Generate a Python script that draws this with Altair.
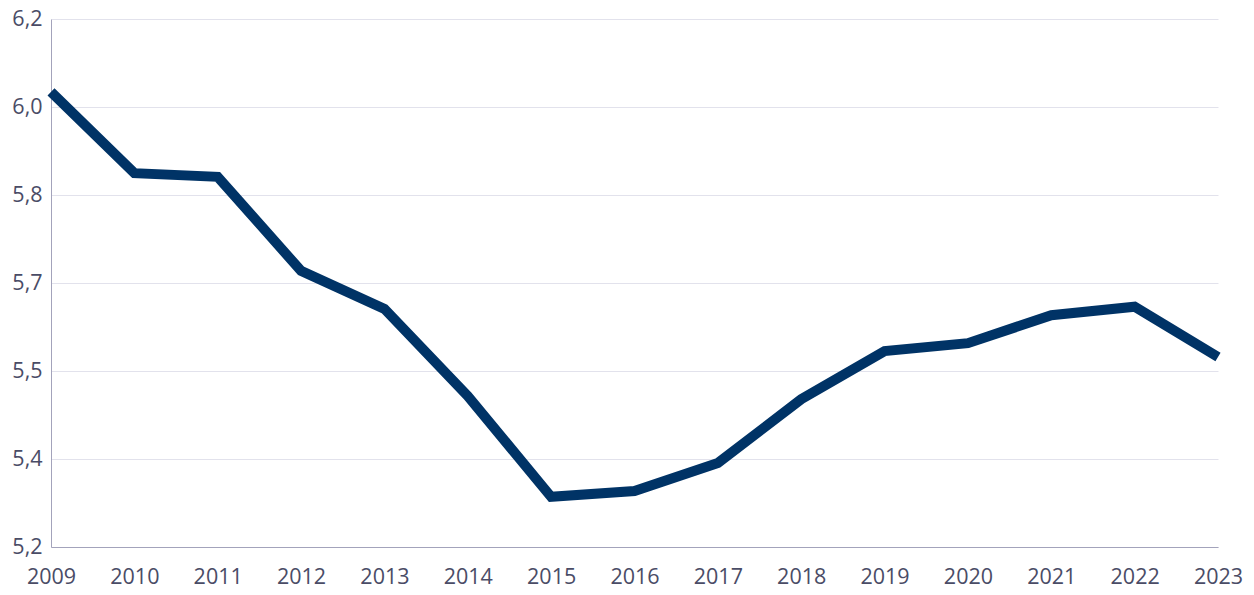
import altair as alt
import pandas as pd

years = list(range(2009, 2024))
values = [6.062, 5.908, 5.901, 5.723, 5.651, 5.486, 5.295, 5.306, 5.359,
          5.480, 5.571, 5.586, 5.639, 5.655, 5.560]

y_ticks = [5.2, 5.2 + 1/6, 5.2 + 2/6, 5.7, 5.2 + 4/6, 5.2 + 5/6, 6.2]
y_labels = ["5,2", "5,4", "5,5", "5,7", "5,8", "6,0", "6,2"]

df = pd.DataFrame({"year": years, "value": values})

label_arr = "[" + ",".join("'" + l + "'" for l in y_labels) + "]"
label_expr = label_arr + "[round((datum.value-5.2)*6)]"

FONT = "Open Sans"
LABEL_COLOR = "#4a4c66"

chart = alt.Chart(df).mark_line(
    color="#003366", strokeWidth=10, strokeJoin="miter", strokeCap="butt"
).encode(
    x=alt.X("year:Q",
            scale=alt.Scale(domain=[2009, 2023], nice=False, zero=False),
            axis=alt.Axis(values=years, format="d", title=None, grid=False,
                          ticks=False, labelFlush=False, labelPadding=19,
                          labelFontSize=21.5, labelFont=FONT, labelColor=LABEL_COLOR,
                          domainColor="#a3a3bb", domainWidth=1)),
    y=alt.Y("value:Q",
            scale=alt.Scale(domain=[5.2, 6.2], nice=False, zero=False),
            axis=alt.Axis(values=y_ticks, labelExpr=label_expr, title=None,
                          ticks=False, labelFlush=False, labelPadding=9,
                          labelFontSize=21.5, labelFont=FONT, labelColor=LABEL_COLOR,
                          gridColor="#e2e2ec", gridWidth=1,
                          domainColor="#a3a3bb", domainWidth=1)),
).properties(
    width=1167, height=528,
    autosize=alt.AutoSizeParams(type="none"),
    padding={"left": 51, "top": 19, "right": 36, "bottom": 48},
).configure_view(stroke=None)

chart.save("out.html", embed_options={"renderer": "svg", "actions": False})
